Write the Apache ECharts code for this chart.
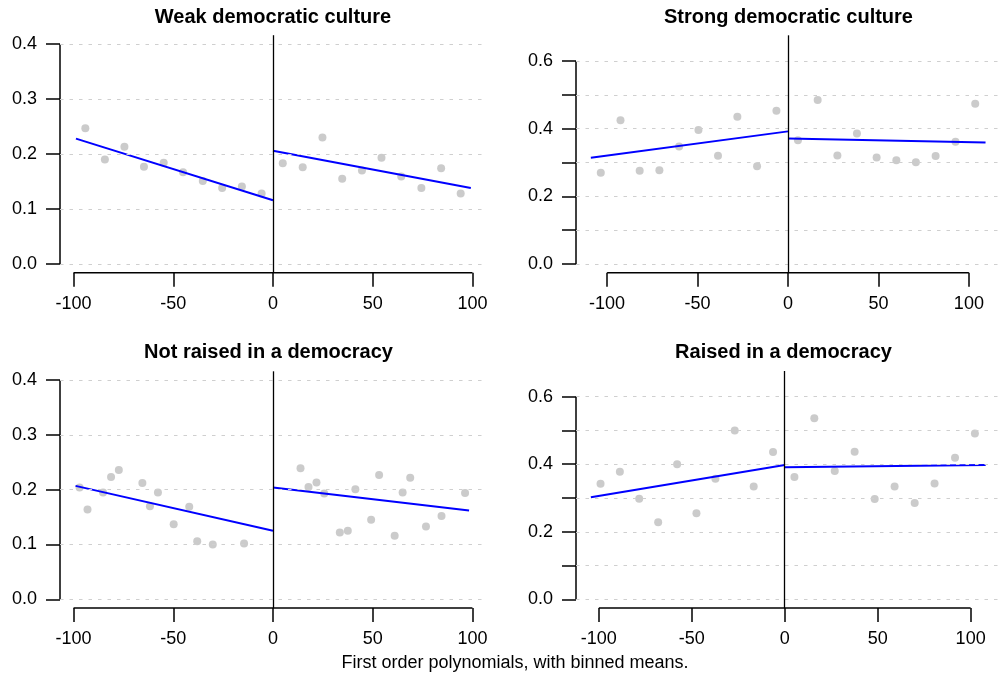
<!DOCTYPE html>
<html>
<head>
<meta charset="utf-8">
<script src="https://cdn.jsdelivr.net/npm/echarts@6/dist/echarts.min.js"></script>
<style>
html,body{margin:0;padding:0;background:#fff;}
#c{width:1001px;height:684px;}
</style>
</head>
<body>
<div id="c"></div>
<script>
// ---------- Data ----------
const panelTitles = ['Weak democratic culture', 'Strong democratic culture', 'Not raised in a democracy', 'Raised in a democracy'];
const footerText = 'First order polynomials, with binned means.';

const xTicks = [-100, -50, 0, 50, 100];
const yTicksLow = [0, 0.1, 0.2, 0.3, 0.4];
const yLabelsLow = [0, 0.1, 0.2, 0.3, 0.4];
const yTicksHigh = [0, 0.1, 0.2, 0.3, 0.4, 0.5, 0.6];
const yLabelsHigh = [0, 0.2, 0.4, 0.6];

// Weak democratic culture
const weakLeftX  = [-94.1, -84.3, -74.5, -64.7, -54.8, -45.1, -35.2, -25.5, -15.6, -5.7];
const weakLeftY  = [0.247, 0.190, 0.213, 0.177, 0.184, 0.167, 0.151, 0.138, 0.141, 0.128];
const weakRightX = [4.9, 14.9, 24.8, 34.7, 44.6, 54.4, 64.3, 74.4, 84.3, 94.1];
const weakRightY = [0.183, 0.176, 0.230, 0.155, 0.170, 0.193, 0.159, 0.138, 0.174, 0.128];
const weakFitLeft  = [[-98.8, 0.228], [0, 0.116]];
const weakFitRight = [[0, 0.206], [99.2, 0.138]];

// Strong democratic culture
const strongLeftX  = [-103.5, -92.6, -82.0, -71.1, -60.2, -49.5, -38.7, -28.0, -17.1, -6.4];
const strongLeftY  = [0.270, 0.425, 0.276, 0.277, 0.347, 0.396, 0.320, 0.435, 0.289, 0.453];
const strongRightX = [5.5, 16.4, 27.3, 38.1, 49.0, 59.9, 70.7, 81.6, 92.6, 103.5];
const strongRightY = [0.366, 0.485, 0.321, 0.386, 0.315, 0.307, 0.301, 0.319, 0.361, 0.474];
const strongFitLeft  = [[-109.0, 0.314], [0, 0.392]];
const strongFitRight = [[0, 0.371], [109.2, 0.359]];

// Not raised in a democracy
const notRaisedLeftX  = [-97.0, -93.0, -85.2, -81.2, -77.3, -65.5, -61.7, -57.7, -49.8, -42.0, -38.0, -30.2, -14.5];
const notRaisedLeftY  = [0.204, 0.164, 0.195, 0.223, 0.236, 0.212, 0.170, 0.195, 0.137, 0.169, 0.106, 0.100, 0.102];
const notRaisedRightX = [13.8, 17.8, 21.8, 25.7, 33.5, 37.5, 41.3, 49.2, 53.2, 61.0, 65.0, 68.8, 76.7, 84.5, 96.3];
const notRaisedRightY = [0.239, 0.205, 0.213, 0.193, 0.122, 0.125, 0.201, 0.145, 0.227, 0.116, 0.195, 0.222, 0.133, 0.152, 0.194];
const notRaisedFitLeft  = [[-99.0, 0.207], [0, 0.125]];
const notRaisedFitRight = [[0, 0.204], [98.3, 0.162]];

// Raised in a democracy
const raisedLeftX  = [-99.1, -88.7, -78.3, -68.1, -57.9, -47.5, -37.3, -26.9, -16.7, -6.3];
const raisedLeftY  = [0.342, 0.378, 0.298, 0.228, 0.400, 0.255, 0.357, 0.500, 0.334, 0.436];
const raisedRightX = [5.2, 15.9, 26.9, 37.6, 48.4, 59.1, 69.9, 80.6, 91.6, 102.3];
const raisedRightY = [0.362, 0.536, 0.380, 0.437, 0.297, 0.334, 0.285, 0.343, 0.419, 0.491];
const raisedFitLeft  = [[-104.3, 0.302], [0, 0.398]];
const raisedFitRight = [[0, 0.391], [108.1, 0.398]];

// ---------- Layout ----------
const FONT = '"Liberation Sans", Arial, Helvetica, sans-serif';
const panels = [
  { title: panelTitles[0], grid: {left: 60, top: 35.2, width: 426, height: 237.6}, x: [-106.8, 106.8], y: [-0.016, 0.416],
    yTicks: yTicksLow, yLabels: yLabelsLow, yTop: 0.4, titlePos: [273, 17],
    lx: weakLeftX, ly: weakLeftY, rx: weakRightX, ry: weakRightY, fl: weakFitLeft, fr: weakFitRight },
  { title: panelTitles[1], grid: {left: 576, top: 35.3, width: 424, height: 237.5}, x: [-117.2, 117.2], y: [-0.026, 0.676],
    yTicks: yTicksHigh, yLabels: yLabelsHigh, yTop: 0.6, titlePos: [788.5, 17],
    lx: strongLeftX, ly: strongLeftY, rx: strongRightX, ry: strongRightY, fl: strongFitLeft, fr: strongFitRight },
  { title: panelTitles[2], grid: {left: 60, top: 371.3, width: 426, height: 236.8}, x: [-106.8, 106.8], y: [-0.016, 0.416],
    yTicks: yTicksLow, yLabels: yLabelsLow, yTop: 0.4, titlePos: [268.5, 352],
    lx: notRaisedLeftX, ly: notRaisedLeftY, rx: notRaisedRightX, ry: notRaisedRightY, fl: notRaisedFitLeft, fr: notRaisedFitRight },
  { title: panelTitles[3], grid: {left: 576, top: 371, width: 424, height: 237.1}, x: [-112.3, 115.8], y: [-0.026, 0.676],
    yTicks: yTicksHigh, yLabels: yLabelsHigh, yTop: 0.6, titlePos: [783.5, 352],
    lx: raisedLeftX, ly: raisedLeftY, rx: raisedRightX, ry: raisedRightY, fl: raisedFitLeft, fr: raisedFitRight }
];

const zip = (xs, ys) => xs.map((x, i) => [x, ys[i]]);

const grids = [], xAxes = [], yAxes = [], series = [], graphics = [];

panels.forEach((p, i) => {
  grids.push(Object.assign({containLabel: false}, p.grid));
  xAxes.push({
    type: 'value', gridIndex: i, min: p.x[0], max: p.x[1],
    axisLine: {show: false, onZero: false},
    splitLine: {show: false},
    axisTick: {show: true, customValues: xTicks, length: 14, lineStyle: {color: '#000', width: 1.5}},
    axisLabel: {customValues: xTicks, fontSize: 18, color: '#000', fontFamily: FONT, margin: 22,
                formatter: v => String(Math.round(v))}
  });
  yAxes.push({
    type: 'value', gridIndex: i, min: p.y[0], max: p.y[1],
    axisLine: {show: false, onZero: false},
    splitLine: {show: false},
    axisTick: {show: true, customValues: p.yTicks, length: 14, lineStyle: {color: '#000', width: 1.5}},
    axisLabel: {customValues: p.yLabels, fontSize: 18, color: '#000', fontFamily: FONT, margin: 23,
                formatter: v => v.toFixed(1)}
  });

  // gridlines (dotted) as markLines on an empty helper series
  series.push({
    type: 'scatter', xAxisIndex: i, yAxisIndex: i, data: [], silent: true,
    markLine: {
      silent: true, symbol: 'none', animation: false, label: {show: false},
      lineStyle: {color: '#cfcfcf', width: 1, type: [3.5, 6]},
      emphasis: {disabled: true},
      data: p.yTicks.map(v => ({yAxis: v}))
    }
  });
  // binned means
  series.push({
    type: 'scatter', xAxisIndex: i, yAxisIndex: i, symbolSize: 8, silent: true,
    itemStyle: {color: '#bebebe'}, data: zip(p.lx, p.ly).concat(zip(p.rx, p.ry))
  });
  // fitted lines
  [p.fl, p.fr].forEach(seg => series.push({
    type: 'line', xAxisIndex: i, yAxisIndex: i, data: seg, symbol: 'none', silent: true,
    lineStyle: {color: '#0000ff', width: 2}, clip: false
  }));
  // cutoff vertical line
  series.push({
    type: 'scatter', xAxisIndex: i, yAxisIndex: i, data: [], silent: true,
    markLine: {
      silent: true, symbol: 'none', animation: false, label: {show: false},
      lineStyle: {color: '#000', width: 1.3, type: 'solid'},
      emphasis: {disabled: true},
      data: [{xAxis: 0}]
    }
  });
  // axis lines (R-style, spanning first to last tick)
  series.push({
    type: 'line', xAxisIndex: i, yAxisIndex: i, symbol: 'none', silent: true, clip: false,
    lineStyle: {color: '#000', width: 1.5},
    data: [[p.x[0], p.yTicks[0]], [p.x[0], p.yTicks[p.yTicks.length - 1]]]
  });
  series.push({
    type: 'line', xAxisIndex: i, yAxisIndex: i, symbol: 'none', silent: true, clip: false,
    lineStyle: {color: '#000', width: 1.5},
    data: [[xTicks[0], p.y[0]], [xTicks[xTicks.length - 1], p.y[0]]]
  });

  graphics.push({
    type: 'text', x: p.titlePos[0], y: p.titlePos[1], silent: true,
    style: {text: p.title, font: 'bold 20px ' + FONT, fill: '#000', textAlign: 'center', textVerticalAlign: 'middle'}
  });
});

graphics.push({
  type: 'text', x: 515, y: 663, silent: true,
  style: {text: footerText, font: '18px ' + FONT, fill: '#000', textAlign: 'center', textVerticalAlign: 'middle'}
});

const chart = echarts.init(document.getElementById('c'), null, {renderer: 'canvas'});
chart.setOption({
  animation: false,
  backgroundColor: '#fff',
  grid: grids,
  xAxis: xAxes,
  yAxis: yAxes,
  series: series,
  graphic: graphics
});
</script>
</body>
</html>
